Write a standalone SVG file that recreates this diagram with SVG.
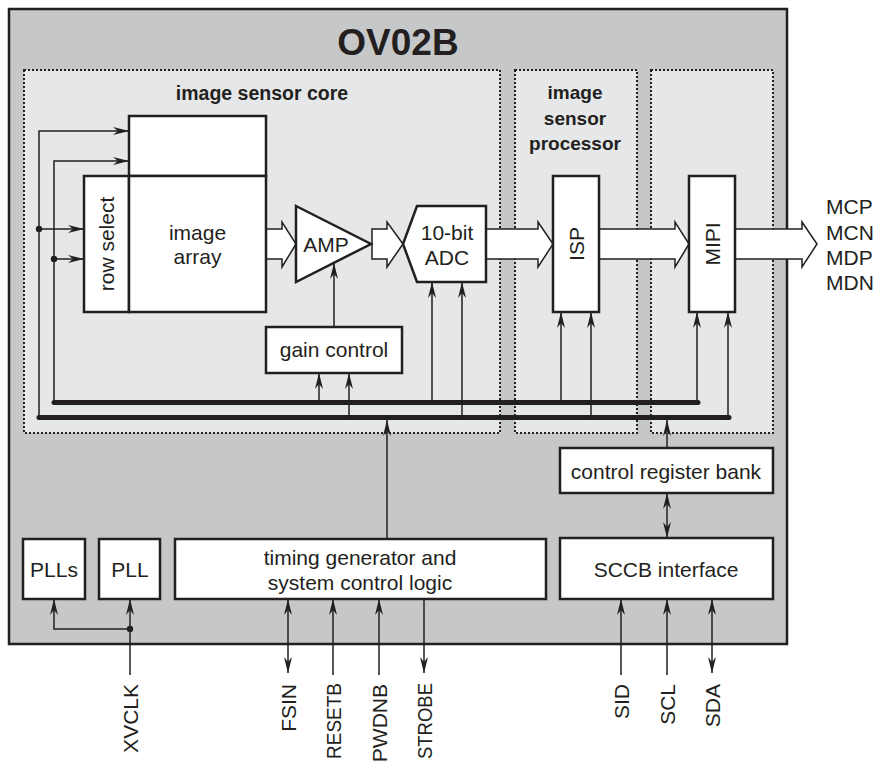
<svg xmlns="http://www.w3.org/2000/svg" width="873" height="761" viewBox="0 0 873 761">
<style>
text{font-family:"Liberation Sans",Arial,sans-serif;font-size:21px;fill:#231f20}
.b{font-weight:bold}
.box{fill:#fff;stroke:#231f20;stroke-width:2.5}
.reg{fill:#e6e7e8;stroke:#231f20;stroke-width:2;stroke-dasharray:2 2}
.ln{fill:none;stroke:#231f20;stroke-width:1.5}
.bus{fill:none;stroke:#231f20;stroke-width:5;stroke-linecap:round}
.ha{fill:#fff;stroke:#231f20;stroke-width:1.5;stroke-linejoin:miter}
.arr{marker-end:url(#ah)}
.arr2{marker-start:url(#ah);marker-end:url(#ah)}
</style>
<defs>
<marker id="ah" viewBox="0 0 16 8" refX="16" refY="4" markerWidth="16" markerHeight="8" orient="auto-start-reverse" markerUnits="userSpaceOnUse">
<path d="M0,0 L16,4 L0,8 L5,4 z" fill="#231f20"/>
</marker>
</defs>
<rect x="9" y="9" width="778" height="635" fill="#c6c7c9" stroke="#231f20" stroke-width="2.5"/>
<text class="b" x="398" y="55" text-anchor="middle" style="font-size:37px">OV02B</text>
<g id="region-core">
<rect class="reg" x="24" y="70" width="476" height="363"/>
<text class="b" x="262" y="100" text-anchor="middle" style="font-size:19.5px">image sensor core</text>
</g>
<g id="region-isp">
<rect class="reg" x="515" y="70" width="122" height="363"/>
<text class="b" x="575" y="99" text-anchor="middle" style="font-size:19px">image</text>
<text class="b" x="575" y="125" text-anchor="middle" style="font-size:19px">sensor</text>
<text class="b" x="575" y="150" text-anchor="middle" style="font-size:19px">processor</text>
</g>
<g id="region-mipi">
<rect class="reg" x="651" y="70" width="122" height="363"/>
</g>
<g id="connectors">
<path class="bus" d="M54,402.5 H698"/>
<path class="bus" d="M39,417.5 H729"/>
<path class="ln" d="M39,417.5 V131 H129" marker-end="url(#ah)"/>
<path class="ln" d="M54,402.5 V161 H129" marker-end="url(#ah)"/>
<path class="ln arr" d="M39,229 H84"/>
<path class="ln arr" d="M54,259 H84"/>
<path class="ln arr" d="M334,327 V263"/>
<path class="ln arr" d="M319,402.5 V373"/>
<path class="ln arr" d="M349,417.5 V373"/>
<path class="ln arr" d="M432,402.5 V282"/>
<path class="ln arr" d="M462,417.5 V282"/>
<path class="ln arr" d="M561,402.5 V312"/>
<path class="ln arr" d="M591,417.5 V312"/>
<path class="ln arr" d="M697,402.5 V312"/>
<path class="ln arr" d="M728,417.5 V312"/>
<path class="ln arr" d="M387,539 V420"/>
<path class="ln arr" d="M667,448 V420"/>
<path class="ln arr2" d="M667,493 V538"/>
<path class="ln arr" d="M130,675 V599"/>
<path class="ln arr" d="M130,629 H54 V599"/>
<path class="ln arr2" d="M288,673 V599"/>
<path class="ln arr" d="M333,675 V599"/>
<path class="ln arr" d="M379,675 V599"/>
<path class="ln arr" d="M424,599 V673"/>
<path class="ln arr" d="M621,675 V599"/>
<path class="ln arr" d="M667,675 V599"/>
<path class="ln arr2" d="M712,673 V599"/>
<circle cx="39" cy="229" r="3.2" fill="#231f20"/>
<circle cx="54" cy="259" r="3.2" fill="#231f20"/>
<circle cx="130" cy="629" r="3.2" fill="#231f20"/>
<polygon class="ha" points="266,229 282,229 282,222 296,244 282,267 282,259 266,259"/>
<polygon class="ha" points="372,229 387,229 387,222 403,244 387,267 387,259 372,259"/>
<polygon class="ha" points="486,229 538,229 538,222 553,244 538,267 538,259 486,259"/>
<polygon class="ha" points="599,229 675,229 675,222 689,244 675,267 675,259 599,259"/>
<polygon class="ha" points="735,229 802,229 802,222 817,244 802,267 802,259 735,259"/>
</g>
<g id="col-block"><rect class="box" x="129" y="116" width="137" height="60"/></g>
<g id="row-select"><rect class="box" x="84" y="176" width="45" height="136"/>
<text transform="translate(114,244) rotate(-90)" text-anchor="middle">row select</text></g>
<g id="image-array"><rect class="box" x="129" y="176" width="137" height="136"/>
<text x="197.5" y="240" text-anchor="middle">image</text>
<text x="197.5" y="264" text-anchor="middle">array</text></g>
<g id="amp"><polygon class="box" points="296,206 371,244 296,282"/>
<text x="326" y="252" text-anchor="middle">AMP</text></g>
<g id="adc"><polygon class="box" points="417,206 486,206 486,282 417,282 403,244"/>
<text x="447" y="240" text-anchor="middle">10-bit</text>
<text x="447" y="265" text-anchor="middle">ADC</text></g>
<g id="gain-control"><rect class="box" x="266" y="327" width="136" height="46"/>
<text x="334" y="357" text-anchor="middle">gain control</text></g>
<g id="isp"><rect class="box" x="553" y="176" width="46" height="136"/>
<text transform="translate(584,244) rotate(-90)" text-anchor="middle">ISP</text></g>
<g id="mipi"><rect class="box" x="689" y="176" width="46" height="136"/>
<text transform="translate(720,244) rotate(-90)" text-anchor="middle">MIPI</text></g>
<g id="mipi-out-labels">
<text x="826" y="214">MCP</text>
<text x="826" y="240">MCN</text>
<text x="826" y="265">MDP</text>
<text x="826" y="290">MDN</text>
</g>
<g id="control-register-bank"><rect class="box" x="560" y="448" width="213" height="45"/>
<text x="666" y="479" text-anchor="middle">control register bank</text></g>
<g id="sccb"><rect class="box" x="560" y="538" width="213" height="61"/>
<text x="666" y="577" text-anchor="middle">SCCB interface</text></g>
<g id="timing"><rect class="box" x="175" y="539" width="371" height="60"/>
<text x="360" y="565" text-anchor="middle">timing generator and</text>
<text x="360" y="590" text-anchor="middle">system control logic</text></g>
<g id="plls"><rect class="box" x="23" y="539" width="62" height="60"/>
<text x="54" y="577" text-anchor="middle">PLLs</text></g>
<g id="pll"><rect class="box" x="99" y="539" width="61" height="60"/>
<text x="130" y="577" text-anchor="middle">PLL</text></g>
<g id="pin-labels">
<text transform="translate(137.5,684) rotate(-90)" text-anchor="end">XVCLK</text>
<text transform="translate(295.5,684) rotate(-90)" text-anchor="end">FSIN</text>
<text transform="translate(340.5,683) rotate(-90)" text-anchor="end" textLength="76" lengthAdjust="spacingAndGlyphs">RESETB</text>
<text transform="translate(386.5,684) rotate(-90)" text-anchor="end">PWDNB</text>
<text transform="translate(431.5,683) rotate(-90)" text-anchor="end" textLength="76" lengthAdjust="spacingAndGlyphs">STROBE</text>
<text transform="translate(628.5,684) rotate(-90)" text-anchor="end">SID</text>
<text transform="translate(674.5,684) rotate(-90)" text-anchor="end">SCL</text>
<text transform="translate(719.5,684) rotate(-90)" text-anchor="end">SDA</text>
</g>
</svg>
